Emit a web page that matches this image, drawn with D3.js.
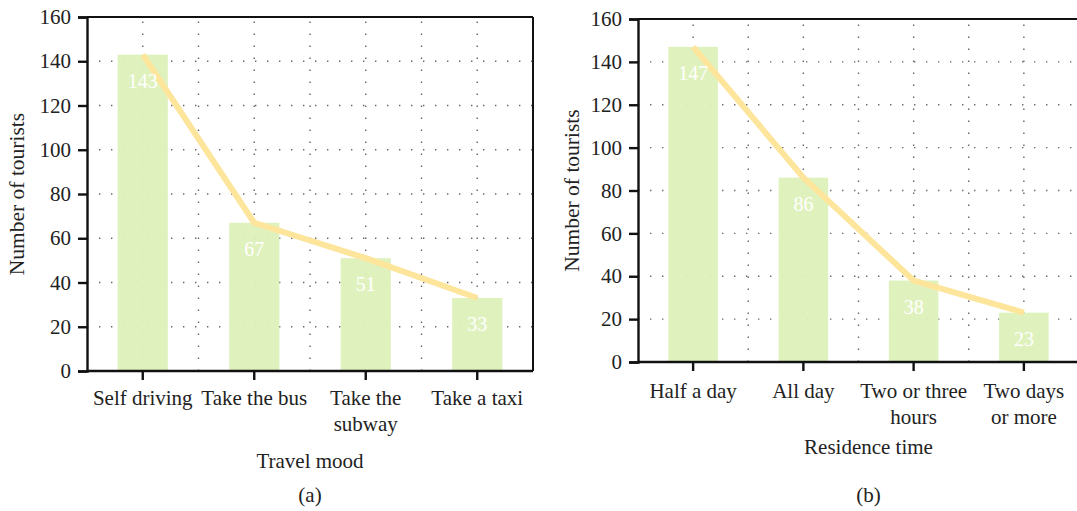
<!DOCTYPE html>
<html><head><meta charset="utf-8">
<script src="https://cdn.jsdelivr.net/npm/d3@7"></script>
<style>body{margin:0;background:#fff}svg{display:block}</style>
</head><body><svg id="c" width="1077" height="511"></svg>
<script>
const catsA = [["Self driving"],["Take the bus"],["Take the","subway"],["Take a taxi"]];
const valsA = [143, 67, 51, 33];
const catsB = [["Half a day"],["All day"],["Two or three","hours"],["Two days","or more"]];
const valsB = [147, 86, 38, 23];
const yTicks = [0,20,40,60,80,100,120,140,160];
const yTitle = "Number of tourists";
const xTitleA = "Travel mood", xTitleB = "Residence time";

const FONT = "Liberation Serif";
const svg = d3.select("#c");
const barColor = "#ddf1bb", lineColor = "#fee59c";

function txt(sel, size){ return sel.attr("font-family", FONT).style("font-family", FONT).style("fill","#222").style("font-size", size+"px"); }

function panel(o){
  const g = svg.append("g");
  const x = d3.scaleBand().domain(o.cats.map((d,i)=>i)).range([o.l,o.r]).padding(0);
  const y = d3.scaleLinear().domain([0,160]).range([o.b,o.t]);
  const bw = x.bandwidth();
  const gx = [];
  o.cats.forEach((d,i)=>{gx.push(x(i)+bw/2); if(i>0) gx.push(x(i));});
  g.selectAll(".vg").data(gx).join("line").attr("x1",d=>d).attr("x2",d=>d).attr("y1",o.b).attr("y2",o.t)
    .attr("stroke","#666").attr("stroke-width",1.4).attr("stroke-dasharray","1.4,10.6");
  g.selectAll(".hg").data(yTicks.slice(1,-1)).join("line").attr("x1",o.l).attr("x2",o.r).attr("y1",d=>y(d)).attr("y2",d=>y(d))
    .attr("stroke","#666").attr("stroke-width",1.4).attr("stroke-dasharray","1.4,10.6");
  g.selectAll(".bar").data(o.vals).join("rect").attr("x",(d,i)=>x(i)+bw*0.275).attr("width",bw*0.45)
    .attr("y",d=>y(d)).attr("height",d=>o.b-y(d)).attr("fill",barColor).attr("opacity",0.95);
  g.append("path").datum(o.vals).attr("fill","none").attr("stroke",lineColor).attr("stroke-width",6)
    .attr("stroke-linejoin","round")
    .attr("d",d3.line().x((d,i)=>x(i)+bw/2).y(d=>y(d)));
  txt(g.selectAll(".vl").data(o.vals).join("text").attr("x",(d,i)=>x(i)+bw/2).attr("y",d=>y(d)+33)
    .attr("text-anchor","middle"), 20).style("fill","#fff").text(d=>d);
  g.append("line").attr("x1",o.l).attr("x2",o.r).attr("y1",o.t).attr("y2",o.t).attr("stroke","#111").attr("stroke-width",2);
  g.append("line").attr("x1",o.r).attr("x2",o.r).attr("y1",o.t).attr("y2",o.b).attr("stroke","#111").attr("stroke-width",2);
  const ya = g.append("g").attr("transform",`translate(${o.l},0)`)
    .call(d3.axisLeft(y).tickValues(yTicks).tickSize(9).tickPadding(7));
  ya.attr("font-family", FONT).attr("font-size", null);
  ya.select(".domain").attr("stroke","#111").attr("stroke-width",2.4);
  ya.selectAll(".tick line").attr("stroke","#111").attr("stroke-width",2.4);
  txt(ya.selectAll("text"), 21);
  const xa = g.append("g").attr("transform",`translate(0,${o.b})`)
    .call(d3.axisBottom(x).tickSize(9).tickFormat(""));
  xa.select(".domain").attr("stroke","#111").attr("stroke-width",2.4).attr("d",`M${o.l},0H${o.r}`);
  xa.selectAll(".tick line").attr("stroke","#111").attr("stroke-width",2.4);
  o.cats.forEach((lines,i)=>{
    const t = txt(g.append("text").attr("x",x(i)+bw/2).attr("y",o.tl).attr("text-anchor","middle"), 21);
    lines.forEach((s,j)=>t.append("tspan").attr("x",x(i)+bw/2).attr("dy",j?25.5:0).text(s));
  });
  txt(g.append("text").attr("transform",`translate(${o.yl},${(o.t+o.b)/2}) rotate(-90)`).attr("text-anchor","middle"), 21.5)
    .text(yTitle);
  txt(g.append("text").attr("x",(o.l+o.r)/2 - o.xoff).attr("y",o.xt).attr("text-anchor","middle"), 21).text(o.xtitle);
  txt(g.append("text").attr("x",(o.l+o.r)/2 - o.xoff).attr("y",502).attr("text-anchor","middle"), 21).text(o.cap);
}
panel({cats:catsA, vals:valsA, l:87, r:533, t:17, b:371, tl:405, xt:468, yl:24, xtitle:xTitleA, cap:"(a)", xoff:0});
panel({cats:catsB, vals:valsB, l:638, r:1079, t:19, b:362, tl:398, xt:454, yl:579, xtitle:xTitleB, cap:"(b)", xoff:-10});
</script></body></html>
